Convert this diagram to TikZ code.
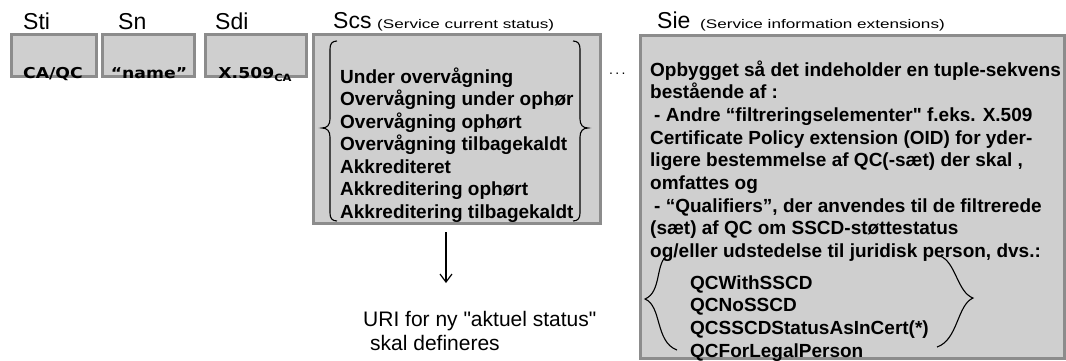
\documentclass[tikz,border=0pt]{standalone}
\usepackage{fontspec}
\setmainfont{Liberation Sans}
\newfontfamily\verd{DejaVu Sans}
\usetikzlibrary{arrows.meta}
\definecolor{boxfill}{HTML}{CFCFCF}
\definecolor{boxline}{HTML}{8C8C8C}
\begin{document}
\begin{tikzpicture}[x=1pt,y=-1pt,
  box/.style={draw=boxline, line width=3pt, fill=boxfill, inner sep=0pt, anchor=north west},
  lbl/.style={anchor=base west, inner sep=0pt, font=\fontsize{23}{23}\selectfont},
  sublbl/.style={anchor=base west, inner sep=0pt, font=\fontsize{12.5}{12.5}\selectfont},
  val/.style={anchor=base, inner sep=0pt, font=\verd\bfseries\fontsize{15}{15}\selectfont},
  bline/.style={anchor=base west, inner sep=0pt, font=\bfseries\fontsize{19}{19}\selectfont},
  brace/.style={draw=black, line width=1.1pt},
  plain/.style={anchor=base west, inner sep=0pt, font=\fontsize{21}{21}\selectfont}]
\useasboundingbox (0,0) rectangle (1066,360);

% boxes
\node[box, minimum width=85pt, minimum height=42pt] (sti) at (10,33) {};
\node[box, minimum width=92pt, minimum height=42pt] (sn) at (101,33) {};
\node[box, minimum width=101pt, minimum height=42pt] (sdi) at (204,33) {};
\node[box, minimum width=287pt, minimum height=189pt] (scs) at (312,33) {};
\node[box, minimum width=424pt, minimum height=323pt] (sie) at (639,34) {};

% labels above
\node[lbl] (lsti) at (23,29) {Sti};
\node[lbl] (lsn) at (118,29) {Sn};
\node[lbl] (lsdi) at (215,29) {Sdi};
\node[lbl] (lscs) at (333,28) {Scs};
\node[sublbl] (lscs2) at (377,28) {\scalebox{1.37}[1]{(Service current status)}};
\node[lbl] (lsie) at (657,28) {Sie};
\node[sublbl] (lsie2) at (700,28) {\scalebox{1.37}[1]{(Service information extensions)}};

% small box values
\node[val] (vsti) at (53,78) {\scalebox{1.15}[1]{CA/QC}};
\node[val] (vsn) at (149,78) {\scalebox{1.15}[1]{“name”}};
\node[val] (vsdi) at (255,78) {\scalebox{1.15}[1]{X.509\raisebox{-3pt}{\fontsize{10}{10}\selectfont CA}}};

% Scs content
\foreach \t [count=\i] in {Under overvågning, Overvågning under ophør, Overvågning ophørt,
  Overvågning tilbagekaldt, Akkrediteret, Akkreditering ophørt, Akkreditering tilbagekaldt}
  \node[bline] (scsl\i) at (340,{83+22.5*(\i-1)}) {\t};

% Scs braces
\draw[brace] (337,41) .. controls (332,41) and (330,44) .. (330,49) -- (330,119)
  .. controls (330,125) and (327,128) .. (322,128)
  .. controls (327,128) and (330,131) .. (330,137) -- (330,213)
  .. controls (330,218) and (332,221) .. (337,221);
\draw[brace] (573,41) .. controls (578,41) and (580,44) .. (580,49) -- (580,119)
  .. controls (580,125) and (583,128) .. (588,128)
  .. controls (583,128) and (580,131) .. (580,137) -- (580,213)
  .. controls (580,218) and (578,221) .. (573,221);

% dots
\node[anchor=base west, inner sep=0pt, font=\fontsize{14}{14}\selectfont] (dots) at (609,74) {.\,.\,.};

% Sie content
\foreach \t [count=\i] in {{Opbygget så det indeholder en tuple-sekvens},
  {bestående af :},
  {\hspace{4pt}- Andre “filtreringselementer\textquotedbl{} f.eks. X.509},
  {Certificate Policy extension (OID) for yder-},
  {ligere bestemmelse af QC(-sæt) der skal ,},
  {omfattes og},
  {\hspace{4pt}- “Qualifiers”, der anvendes til de filtrerede},
  {(sæt) af QC om SSCD-støttestatus},
  {og/eller udstedelse til juridisk person, dvs.:}}
  \node[bline] (siel\i) at (650,{76+22.7*(\i-1)}) {\t};
\foreach \t [count=\i] in {QCWithSSCD, QCNoSSCD, QCSSCDStatusAsInCert(*), QCForLegalPerson}
  \node[bline] (qc\i) at (690,{289+22.8*(\i-1)}) {\t};

% Sie braces
\draw[brace] (668,255) .. controls (655,262) and (662,292) .. (645,299)
  .. controls (662,306) and (655,342) .. (677,350);
\draw[brace] (940,256) .. controls (956,262) and (957,292) .. (973,298)
  .. controls (957,305) and (958,340) .. (937,347);

% arrow and URI text
\coordinate (atop) at (446,232);
\coordinate (abot) at (446,283);
\draw[line width=1.2pt, -{Straight Barb[length=8pt,width=12pt]}] (atop) -- (abot);
\node[plain] (uri1) at (363,326) {URI for ny \textquotedbl aktuel status\textquotedbl};
\node[plain] (uri2) at (370,350) {skal defineres};
\end{tikzpicture}
\end{document}
